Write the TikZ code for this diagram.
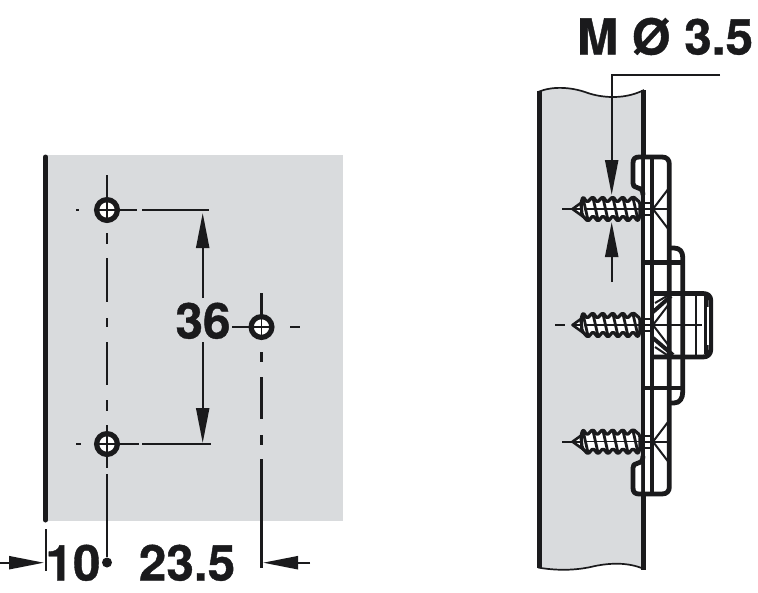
\documentclass[tikz,border=0pt]{standalone}
\usepackage{fontspec}
\setmainfont[BoldFeatures={FakeBold=0.8}]{TeX Gyre Heros}
\usetikzlibrary{arrows.meta}
\definecolor{panelgrey}{HTML}{D9DBDD}
\definecolor{ink}{HTML}{1A1A1C}
\tikzset{
  dimline/.style={draw=ink,line width=2.2pt},
  arrowline/.style={dimline,-{Triangle[length=35pt,width=13pt]}},
  heavy/.style={draw=ink,line width=5pt,line cap=round,line join=round},
  plateline/.style={draw=ink,line width=4.8pt,line join=round},
  dimtext/.style={inner sep=0pt,anchor=base,text=ink,font=\fontsize{49.5}{49.5}\selectfont\bfseries},
  holering/.style={draw=ink,fill=white,line width=5.2pt},
}
\newcommand{\holemark}[2]{%
  \draw[holering] (#1,#2) circle (10.4pt);
  \draw[draw=ink,line width=1.5pt] (#1-9,#2) -- (#1+9,#2) (#1,#2-9) -- (#1,#2+9);
}
\newcommand{\screwmark}[2]{%
  % #1 = y centre, #2 = left end of the centre line
  \begin{scope}[shift={(0,#1)}]
    \fill[white] (574,0) -- (584,-7) -- (640,-7) -- (640,7) -- (584,7) -- cycle;
    \draw[ink,line width=1.8pt] (#2,0) -- (667,0);
    \draw[ink,line width=2.6pt,line join=round] (585,-9) -- (572.5,0) -- (585,9);
    \draw[draw=ink,fill=white,line width=3.2pt,line join=round,rounded corners=1.6pt]
      (581,-6)
      -- (583,-12.5) -- (587,-6.5)
      -- (593,-12.5) -- (597,-6.5)
      -- (603,-12.5) -- (607,-6.5)
      -- (613,-12.5) -- (617,-6.5)
      -- (623,-12.5) -- (627,-6.5)
      -- (633,-12.5) -- (640,-6.5)
      -- (640,6.5)
      -- (638,12.5) -- (633,6.5)
      -- (628,12.5) -- (623,6.5)
      -- (618,12.5) -- (613,6.5)
      -- (608,12.5) -- (603,6.5)
      -- (598,12.5) -- (593,6.5)
      -- (588,12.5) -- (582,6) -- cycle;
    \foreach \k in {0,...,5} {
      \draw[ink,line width=2.8pt] ({583+10*\k},-11) -- ({588+10*\k},11);
    }
    \draw[ink,line width=1.5pt] (586,0) -- (653,0);
    \draw[ink,line width=2pt] (640,-6) -- (654,-6) (640,6) -- (654,6);
    \draw[ink,line width=2pt] (653,0) -- (669,-21) (653,0) -- (669,21);
  \end{scope}
}
\begin{document}
\begin{tikzpicture}[x=1pt,y=-1pt]
\useasboundingbox (0,0) rectangle (758,592);
% ---------- left panel
\fill[panelgrey] (47,155) rectangle (343,521);
\draw[heavy] (45.5,157) -- (45.5,520);
% centre lines
\draw[dimline] (107,175) -- (107,197);
\draw[dimline] (107,233) -- (107,244) (107,258) -- (107,302) (107,318) -- (107,327) (107,342) -- (107,385) (107,400) -- (107,411) (107,425) -- (107,432);
\draw[dimline] (107,457) -- (107,468) (107,474) -- (107,557);
\fill[ink] (107,562.5) circle (5pt);
\draw[dimline] (76,210) -- (79,210) (120,210) -- (137,210) (142,210) -- (209,210);
\draw[dimline] (76,444) -- (81,444) (120,444) -- (139,444) (142,444) -- (211,444);
\draw[dimline] (232,327) -- (250,327) (290,327) -- (300,327);
\draw[dimline] (261.5,293) -- (261.5,315) (261.5,352) -- (261.5,362) (261.5,377) -- (261.5,419) (261.5,435) -- (261.5,445) (261.5,459) -- (261.5,568);
\holemark{107}{210}
\holemark{107}{444}
\holemark{261.5}{327}
% dimension 36
\draw[arrowline] (202.7,298) -- (202.7,213);
\draw[arrowline] (202.7,342) -- (202.7,443);
\node[dimtext] (d36) at (203,338.5) {36};
% dimension 10 / 23.5
\draw[dimline] (45.7,529) -- (45.7,571);
\draw[arrowline] (0,562.7) -- (44,562.7);
\draw[arrowline] (310,562.7) -- (263,562.7);
\node[dimtext] (d10) at (73,580.5) {10};
\node[dimtext] (d235) at (187,580.5) {23.5};
% ---------- right side: wall
\fill[panelgrey] (539,91) .. controls (552,86) and (570,87) .. (585,92)
  .. controls (598,97) and (622,101) .. (643,91) -- (643,568)
  .. controls (628,562) and (610,563) .. (595,566)
  .. controls (575,571) and (555,570) .. (539,567) -- cycle;
\draw[ink,line width=1.7pt] (538,92) .. controls (552,86) and (570,87) .. (585,92)
  .. controls (598,97) and (622,101) .. (644,90);
\draw[ink,line width=1.7pt] (538,567.5) .. controls (555,570.5) and (575,571) .. (595,566)
  .. controls (610,563) and (628,562) .. (644,569);
\draw[heavy,line cap=butt] (539.5,91) -- (539.5,568);
\draw[heavy,line cap=butt] (643,90) -- (643,570);
% plate
\fill[white] (645,157) rectangle (669,494);
\fill[white] (633,159) -- (633,185) -- (641,192) -- (641,159) -- cycle;
\fill[white] (633,492) -- (633,466) -- (641,459) -- (641,492) -- cycle;
\fill[white] (671,250) rectangle (682,400);
\fill[white] (652,293) rectangle (710,357);
% screws
\screwmark{209}{562}
\screwmark{325}{572}
\screwmark{441.7}{562}
\draw[dimline] (555,325) -- (565,325);
% plate outlines
\draw[plateline] (643,195) .. controls (643,189) and (640,188) .. (637,187.5)
  .. controls (634,187) and (633,186) .. (633,183) -- (633,163)
  .. controls (633,159) and (635,157) .. (639,157) -- (662,157)
  .. controls (667,157) and (669.3,160) .. (669.3,164) -- (669.3,487)
  .. controls (669.3,491) and (667,494) .. (662,494) -- (639,494)
  .. controls (635,494) and (633,492) .. (633,488) -- (633,468)
  .. controls (633,465) and (634,464) .. (637,463.5)
  .. controls (640,463) and (643,462) .. (643,456);
\draw[ink,line width=4pt] (651.7,157) -- (651.7,494);
\draw[plateline] (669.3,248) -- (674,248) .. controls (680,248) and (682.7,252) .. (682.7,257) -- (682.7,392)
  .. controls (682.7,398) and (680,403) .. (674,403) -- (669.3,403);
\draw[plateline] (643,262.7) -- (682.7,262.7) (643,388) -- (682.7,388);
% central block
\draw[plateline] (651.7,293.5) -- (703,293.5) .. controls (708,293.5) and (710.8,296) .. (710.8,301)
  -- (710.8,349) .. controls (710.8,354) and (708,357) .. (703,357) -- (651.7,357);
\draw[draw=ink,line width=2pt] (695.7,293.5) -- (695.7,357);
\draw[draw=ink,line width=4pt] (705.5,296) -- (705.5,354);
\draw[draw=white,line width=1.8pt] (707.8,307) -- (707.8,345);
\draw[draw=ink,line width=1.8pt] (663,325) -- (702,325);
\draw[ink,line width=4pt] (653,312) -- (671,296) (653,338) -- (673,355);
\draw[ink,line width=2pt] (655,303) -- (667,296) (655,347) -- (667,355);
% leader
\draw[dimline] (720,75) -- (611.7,75) -- (611.7,163);
\draw[arrowline] (611.7,160) -- (611.7,195);
\draw[arrowline] (611.7,282) -- (611.7,222);
\node[dimtext] (dm) at (665,54.5) {M Ø 3.5};
\end{tikzpicture}
\end{document}
